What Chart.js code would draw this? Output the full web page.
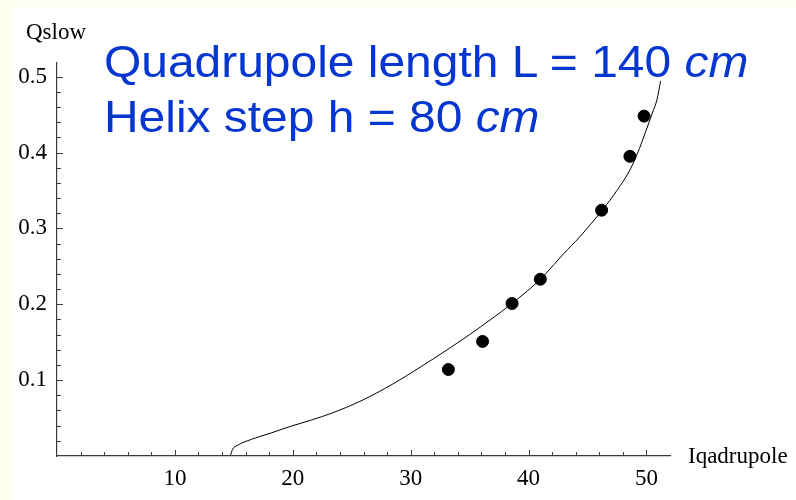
<!DOCTYPE html>
<html>
<head>
<meta charset="utf-8">
<script src="https://cdn.jsdelivr.net/npm/chart.js@4/dist/chart.umd.min.js"></script>
<style>
  html, body { margin: 0; padding: 0; }
  body { width: 796px; height: 500px; background: #fffff2; position: relative; overflow: hidden; }
  #paper { position: absolute; left: 13px; top: 7px; right: 0; bottom: 0; background: #fff; }
  #plot { position: absolute; left: 0; top: 0; }
  .lbl { position: absolute; white-space: nowrap; line-height: 1; transform-origin: 0 0; }
  .axis { font-family: "Liberation Serif", "DejaVu Serif", serif; font-size: 23px; color: #000; }
  .note { font-family: "Liberation Sans", Arial, sans-serif; font-size: 45px; color: #0536d0; transform: scaleX(1.065); }
  .note i { font-style: italic; }
</style>
</head>
<body>
<div id="paper"></div>
<canvas id="plot" width="796" height="500"></canvas>
<div class="lbl axis" style="left:26px; top:20px;">Qslow</div>
<div class="lbl axis" style="left:688px; top:444px;">Iqadrupole</div>
<div class="lbl note" style="left:104px; top:39px;">Quadrupole length L = 140 <i>cm</i></div>
<div class="lbl note" style="left:104px; top:94px;">Helix step h = 80 <i>cm</i></div>
<script>
// measured points
const measI = [33.2, 36.1, 38.6, 41.0, 46.2, 48.6, 49.8];
const measQ = [0.114, 0.151, 0.201, 0.233, 0.324, 0.395, 0.448];

// computed curve
const curveI = [14.7, 14.9, 15.3, 16.5, 18.1, 20.0, 21.5, 23.4, 25.7, 28.5, 30.8, 33.0, 35.0,
  36.8, 38.6, 41.0, 43.3, 44.0, 46.3, 47.5, 48.6, 49.4, 49.9, 50.5, 50.9, 51.2];
const curveQ = [0.000, 0.009, 0.014, 0.022, 0.030, 0.040, 0.047, 0.057, 0.072, 0.095, 0.117, 0.139, 0.160,
  0.180, 0.201, 0.233, 0.272, 0.283, 0.325, 0.350, 0.377, 0.405, 0.426, 0.452, 0.470, 0.494];

const xTicks = [10, 20, 30, 40, 50];
const yTicks = [0.1, 0.2, 0.3, 0.4, 0.5];
const xMinorStep = 2, yMinorStep = 0.02;
const xMax = 52, yMax = 0.518;

const serif = { family: "'Liberation Serif', 'DejaVu Serif', serif", size: 23 };

// Mathematica-style ticks pointing into the frame
const innerTicks = {
  id: 'innerTicks',
  afterDatasetsDraw(chart) {
    const { ctx, scales: { x, y } } = chart;
    ctx.save();
    ctx.strokeStyle = '#3a3a3a';
    ctx.lineWidth = 1;
    ctx.beginPath();
    const nx = Math.floor(xTicks[xTicks.length - 1] / xMinorStep);
    for (let i = 1; i <= nx; i++) {
      const v = i * xMinorStep;
      const px = Math.round(x.getPixelForValue(v)) + 0.5;
      const len = xTicks.includes(v) ? 6 : 4;
      ctx.moveTo(px, y.bottom);
      ctx.lineTo(px, y.bottom - len);
    }
    const ny = Math.round(yTicks[yTicks.length - 1] / yMinorStep);
    for (let i = 1; i <= ny; i++) {
      const v = i * yMinorStep;
      const py = Math.round(y.getPixelForValue(v)) + 0.5;
      const major = yTicks.some(t => Math.abs(t - v) < 1e-9);
      ctx.moveTo(x.left, py);
      ctx.lineTo(x.left + (major ? 6 : 4), py);
    }
    ctx.stroke();
    ctx.restore();
  }
};

new Chart(document.getElementById('plot'), {
  type: 'scatter',
  data: {
    datasets: [
      {
        data: curveI.map((v, i) => ({ x: v, y: curveQ[i] })),
        showLine: true,
        borderColor: '#000',
        borderWidth: 1,
        pointRadius: 0,
        cubicInterpolationMode: 'monotone'
      },
      {
        data: measI.map((v, i) => ({ x: v, y: measQ[i] })),
        backgroundColor: '#000',
        borderColor: '#000',
        pointRadius: 6,
        pointHoverRadius: 6
      }
    ]
  },
  options: {
    responsive: false,
    animation: false,
    events: [],
    layout: { padding: { left: 13, top: 63, right: 126, bottom: 0 } },
    plugins: { legend: { display: false }, tooltip: { enabled: false } },
    scales: {
      x: {
        type: 'linear',
        min: 0,
        max: xMax,
        grid: { display: false, drawTicks: false },
        border: { display: true, color: '#3a3a3a', width: 1.2 },
        afterBuildTicks: s => { s.ticks = xTicks.map(v => ({ value: v })); },
        afterFit: s => { s.height = 44; },
        ticks: { font: serif, color: '#000', padding: 9, maxRotation: 0 }
      },
      y: {
        type: 'linear',
        min: 0,
        max: yMax,
        grid: { display: false, drawTicks: false },
        border: { display: true, color: '#3a3a3a', width: 1.2 },
        afterBuildTicks: s => { s.ticks = yTicks.map(v => ({ value: v })); },
        afterFit: s => { s.width = 44; },
        ticks: { font: serif, color: '#000', padding: 10, callback: v => v.toFixed(1) }
      }
    }
  },
  plugins: [innerTicks]
});
</script>
</body>
</html>
